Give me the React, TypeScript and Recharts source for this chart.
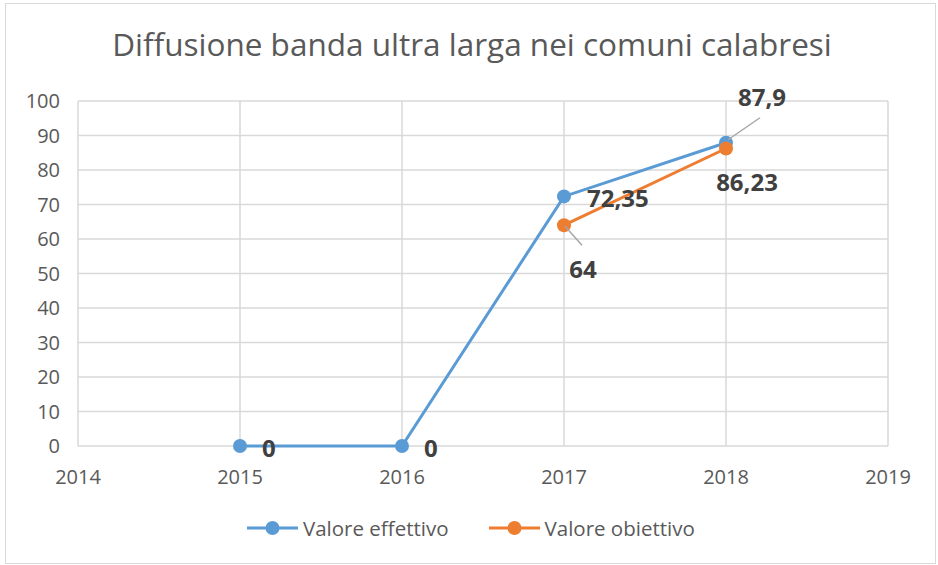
import React from 'react'
import { LineChart, Line, XAxis, YAxis, CartesianGrid, LabelList } from 'recharts'

// Data
const YEARS = [2014, 2015, 2016, 2017, 2018, 2019]
const Y_TICKS = [0, 10, 20, 30, 40, 50, 60, 70, 80, 90, 100]
const EFFETTIVO_YEARS = [2015, 2016, 2017, 2018]
const EFFETTIVO_VALUES = [0, 0, 72.35, 87.9]
const OBIETTIVO_YEARS = [2017, 2018]
const OBIETTIVO_VALUES = [64, 86.23]

const effettivo = EFFETTIVO_YEARS.map((year, i) => ({ year, value: EFFETTIVO_VALUES[i] }))
const obiettivo = OBIETTIVO_YEARS.map((year, i) => ({ year, value: OBIETTIVO_VALUES[i] }))

const BLUE = '#5B9BD5'
const ORANGE = '#ED7D31'
const GRID = '#d9d9d9'
const TEXT = '#595959'
const LABEL = '#404040'
const FONT = '"Open Sans", "Noto Sans", sans-serif'

// label placement per point: dx, dy relative to the marker, optional leader line
type Place = { dx: number; dy: number; anchor: 'start' | 'middle'; leader?: [number, number, number, number] }
const EFF_PLACE: Place[] = [
  { dx: 22, dy: 1, anchor: 'start' },
  { dx: 22, dy: 1, anchor: 'start' },
  { dx: 23, dy: 1, anchor: 'start' },
  { dx: 36, dy: -46, anchor: 'middle', leader: [2, -3, 34, -25] },
]
const OBI_PLACE: Place[] = [
  { dx: 19, dy: 43, anchor: 'middle', leader: [1, 1, 18, 20] },
  { dx: 21, dy: 33, anchor: 'middle' },
]

const fmt = (v: number) => String(v).replace('.', ',')

function makeLabel(places: Place[]) {
  return (props: any) => {
    const { x, y, value, index } = props
    const p = places[index]
    if (!p) return null
    return (
      <g>
        {p.leader && (
          <line
            x1={x + p.leader[0]} y1={y + p.leader[1]}
            x2={x + p.leader[2]} y2={y + p.leader[3]}
            stroke="#a6a6a6" strokeWidth={1.5}
          />
        )}
        <text
          x={x + p.dx} y={y + p.dy}
          textAnchor={p.anchor}
          dominantBaseline="central"
          fontFamily={FONT}
          fontSize={24}
          fontWeight={700}
          fill={LABEL}
        >
          {fmt(value)}
        </text>
      </g>
    )
  }
}

function LegendItem({ color, label }: { color: string; label: string }) {
  return (
    <div style={{ display: 'flex', alignItems: 'center', gap: 5 }}>
      <svg width={51} height={16}>
        <line x1={0} y1={8} x2={51} y2={8} stroke={color} strokeWidth={3} />
        <circle cx={25.5} cy={8} r={7} fill={color} />
      </svg>
      <span style={{ fontFamily: FONT, fontSize: 20.5, color: TEXT }}>{label}</span>
    </div>
  )
}

export default function App() {
  return (
    <div style={{ position: 'absolute', left: 0, top: 0, width: 938, height: 565, background: '#fff' }}>
      <div style={{
        position: 'absolute', left: 5, top: 3, width: 929, height: 559,
        border: `1px solid ${GRID}`,
      }} />
      <div style={{
        position: 'absolute', left: 0, top: 22, width: 944, textAlign: 'center',
        fontFamily: FONT, fontSize: 31.5, color: TEXT,
      }}>
        Diffusione banda ultra larga nei comuni calabresi
      </div>
      <div style={{ position: 'absolute', left: 0, top: 0 }}>
        <LineChart width={938} height={565} margin={{ top: 101, right: 50, bottom: 0, left: 0 }}>
          <CartesianGrid stroke={GRID} strokeWidth={1.5} />
          <XAxis
            dataKey="year"
            type="number"
            domain={[2014, 2019]}
            ticks={YEARS}
            allowDuplicatedCategory={false}
            axisLine={false}
            tickLine={false}
            tickMargin={18}
            height={119}
            tick={{ fill: TEXT, fontSize: 20, fontFamily: FONT }}
          />
          <YAxis
            dataKey="value"
            type="number"
            domain={[0, 100]}
            ticks={Y_TICKS}
            axisLine={false}
            tickLine={false}
            tickMargin={12}
            width={78}
            tick={{ fill: TEXT, fontSize: 20, fontFamily: FONT }}
          />
          <Line
            data={effettivo}
            dataKey="value"
            name="Valore effettivo"
            stroke={BLUE}
            strokeWidth={3}
            dot={{ r: 7, fill: BLUE, stroke: BLUE, strokeWidth: 0 }}
            isAnimationActive={false}
          >
            <LabelList dataKey="value" content={makeLabel(EFF_PLACE)} />
          </Line>
          <Line
            data={obiettivo}
            dataKey="value"
            name="Valore obiettivo"
            stroke={ORANGE}
            strokeWidth={3}
            dot={{ r: 7, fill: ORANGE, stroke: ORANGE, strokeWidth: 0 }}
            isAnimationActive={false}
          >
            <LabelList dataKey="value" content={makeLabel(OBI_PLACE)} />
          </Line>
        </LineChart>
      </div>
      <div style={{
        position: 'absolute', left: 247, top: 514, display: 'flex', gap: 40, alignItems: 'center',
      }}>
        <LegendItem color={BLUE} label="Valore effettivo" />
        <LegendItem color={ORANGE} label="Valore obiettivo" />
      </div>
    </div>
  )
}
